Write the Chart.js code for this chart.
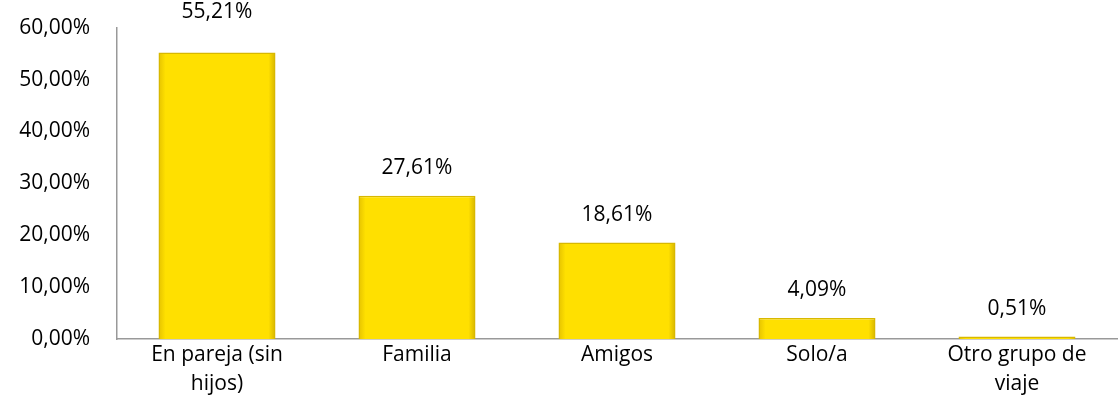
<!DOCTYPE html>
<html>
<head>
<meta charset="utf-8">
<script src="https://cdn.jsdelivr.net/npm/chart.js@4/dist/chart.umd.min.js"></script>
<style>
  html, body { margin: 0; padding: 0; background: #fff; overflow: hidden; }
  #wrap { width: 1119px; height: 429px; margin-top: -12px; }
</style>
</head>
<body>
<div id="wrap"><canvas id="grafico"></canvas></div>
<script>
// Datos del gráfico
const categorias = [
  ['En pareja (sin', 'hijos)'],
  'Familia',
  'Amigos',
  'Solo/a',
  ['Otro grupo de', 'viaje']
];
const porcentajes = [55.21, 27.61, 18.61, 4.09, 0.51];
const ticksY = [0, 10, 20, 30, 40, 50, 60];

const anchoBarra = 0.585;
const fuente = '"Open Sans", Lato, sans-serif';
const fmt = v => v.toFixed(2).replace('.', ',') + '%';

// Etiquetas de valor encima de cada barra
const etiquetasValor = {
  id: 'etiquetasValor',
  afterDatasetsDraw(chart) {
    const c = chart.ctx;
    const meta = chart.getDatasetMeta(0);
    c.save();
    c.font = '21px ' + fuente;
    c.fillStyle = '#000';
    c.textAlign = 'center';
    c.textBaseline = 'middle';
    meta.data.forEach((bar, i) => {
      let y = bar.y - 28;
      if (y < chart.chartArea.top) y = chart.chartArea.top - 16; // la primera queda arriba del todo
      c.fillText(fmt(porcentajes[i]), bar.x, y);
    });
    c.restore();
  }
};

// Relleno con efecto biselado
function rellenoBarra(context) {
  const chart = context.chart;
  const xs = chart.scales.x;
  if (!xs || !chart.chartArea) return '#FFE000';
  const cx = xs.getPixelForValue(context.dataIndex);
  const w = (chart.chartArea.right - chart.chartArea.left) / categorias.length * anchoBarra;
  if (!Number.isFinite(cx) || !Number.isFinite(w)) return '#FFE000';
  const g = chart.ctx.createLinearGradient(cx - w / 2, 0, cx + w / 2, 0);
  g.addColorStop(0, '#E5C200');
  g.addColorStop(0.06, '#FFE000');
  g.addColorStop(0.94, '#FFE000');
  g.addColorStop(1, '#D6B400');
  return g;
}

new Chart(document.getElementById('grafico'), {
  type: 'bar',
  data: {
    labels: categorias,
    datasets: [{
      data: porcentajes,
      backgroundColor: rellenoBarra,
      borderColor: '#D8B800',
      borderWidth: 1.5,
      categoryPercentage: 1,
      barPercentage: anchoBarra
    }]
  },
  options: {
    responsive: true,
    maintainAspectRatio: false,
    animation: false,
    layout: { padding: { top: 0, right: 2, left: 12, bottom: 17 } },
    plugins: {
      legend: { display: false },
      tooltip: { enabled: false }
    },
    scales: {
      x: {
        grid: { display: false, drawTicks: false },
        border: { display: true, color: '#999', width: 1.5 },
        ticks: {
          color: '#000',
          padding: 1,
          maxRotation: 0,
          font: { family: fuente, size: 21, lineHeight: 1.4 }
        }
      },
      y: {
        min: 0,
        max: 60,
        afterBuildTicks: axis => { axis.ticks = ticksY.map(v => ({ value: v })); },
        afterFit: axis => { axis.width = 105; },
        grid: { display: false, drawTicks: false },
        border: { display: true, color: '#999', width: 1.5 },
        ticks: {
          color: '#000',
          padding: 27,
          callback: v => fmt(v),
          font: { family: fuente, size: 21 }
        }
      }
    }
  },
  plugins: [etiquetasValor]
});
</script>
</body>
</html>
